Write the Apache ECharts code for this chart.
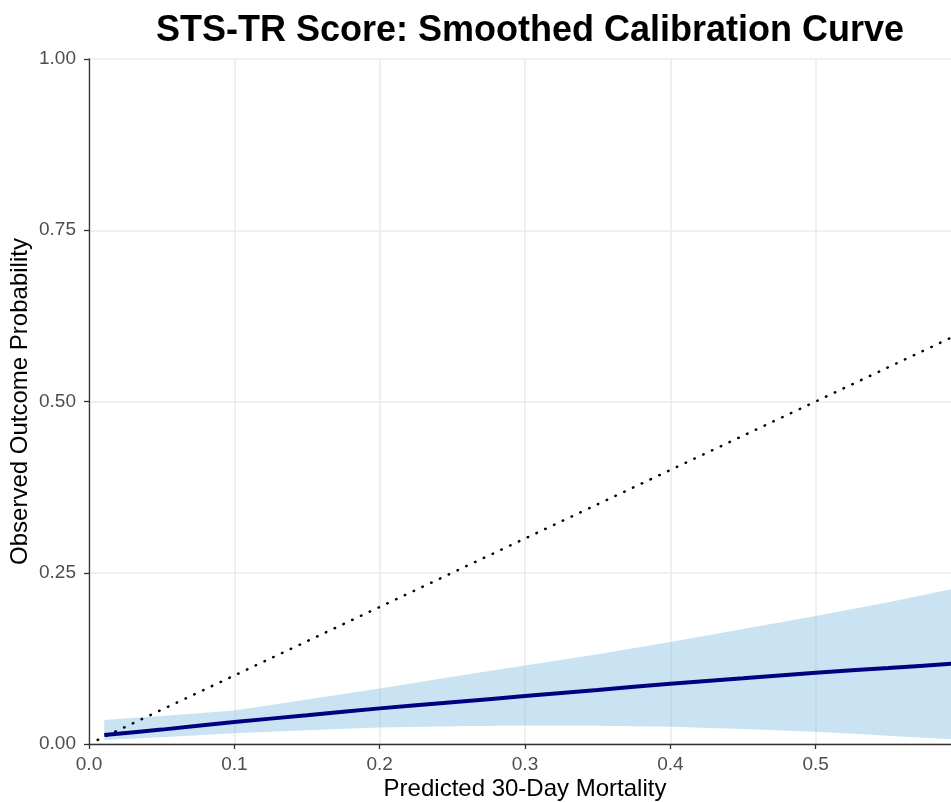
<!DOCTYPE html>
<html>
<head>
<meta charset="utf-8">
<script src="https://cdn.jsdelivr.net/npm/echarts@6/dist/echarts.min.js"></script>
<style>
html,body{margin:0;padding:0;background:#fff;}
#chart{width:951px;height:802px;}
</style>
</head>
<body>
<div id="chart"></div>
<script>
// Data
const predicted = [0.0105, 0.05, 0.1, 0.15, 0.2, 0.25, 0.3, 0.35, 0.4, 0.45, 0.5, 0.55, 0.6];
const observedFit = [0.013, 0.021, 0.032, 0.042, 0.052, 0.061, 0.070, 0.079, 0.088, 0.096, 0.104, 0.111, 0.118];
const upperCI = [0.035, 0.041, 0.049, 0.065, 0.081, 0.098, 0.1145, 0.131, 0.149, 0.168, 0.187, 0.207, 0.229];
const lowerCI = [0.006, 0.010, 0.0156, 0.020, 0.024, 0.026, 0.027, 0.0268, 0.0253, 0.022, 0.018, 0.012, 0.006];
const diagonal = [[0.006, 0.006], [0.6, 0.6]];
const xTicks = [0, 0.1, 0.2, 0.3, 0.4, 0.5];
const yTicks = [0, 0.25, 0.5, 0.75, 1];

const FONT = '"Liberation Sans", Arial, Helvetica, sans-serif';
const chart = echarts.init(document.getElementById('chart'), null, {renderer: 'canvas'});

const fitData = predicted.map((x, i) => [x, observedFit[i]]);

function renderBand(params, api) {
  const upperPts = predicted.map((x, i) => api.coord([x, upperCI[i]]));
  const lowerPts = predicted.map((x, i) => api.coord([x, lowerCI[i]])).reverse();
  return {
    type: 'polygon',
    shape: {points: upperPts.concat(lowerPts), smooth: 0},
    style: {fill: 'rgba(135,193,228,0.45)', stroke: null},
    silent: true
  };
}

chart.setOption({
  animation: false,
  backgroundColor: '#ffffff',
  title: {
    text: 'STS-TR Score: Smoothed Calibration Curve',
    left: 525,
    textAlign: 'center',
    top: 8,
    textStyle: {fontFamily: FONT, fontSize: 36, fontWeight: 'bold', color: '#000'}
  },
  grid: {left: 89, right: -10, top: 59, bottom: 58, containLabel: false, outerBoundsMode: 'none'},
  xAxis: {
    type: 'value',
    min: 0, max: 0.6, interval: 0.1,
    name: 'Predicted 30-Day Mortality',
    nameLocation: 'middle',
    nameGap: 33,
    nameMoveOverlap: false,
    nameTextStyle: {fontFamily: FONT, fontSize: 24, color: '#000'},
    axisLine: {show: true, onZero: false, lineStyle: {color: '#333', width: 1.3}},
    axisTick: {show: true, length: 5, lineStyle: {color: '#333', width: 1.3}},
    axisLabel: {
      fontFamily: FONT, fontSize: 19, color: '#4d4d4d', margin: 11,
      showMaxLabel: false,
      formatter: v => xTicks.some(t => Math.abs(t - v) < 1e-9) ? v.toFixed(1) : ''
    },
    splitLine: {show: true, lineStyle: {color: '#ebebeb', width: 1.6}}
  },
  yAxis: {
    type: 'value',
    min: 0, max: 1, interval: 0.25,
    name: 'Observed Outcome Probability',
    nameLocation: 'middle',
    nameGap: 57,
    nameMoveOverlap: false,
    nameTextStyle: {fontFamily: FONT, fontSize: 24, color: '#000'},
    axisLine: {show: true, onZero: false, lineStyle: {color: '#333', width: 1.3}},
    axisTick: {show: true, length: 5, lineStyle: {color: '#333', width: 1.3}},
    axisLabel: {
      fontFamily: FONT, fontSize: 19, color: '#4d4d4d', margin: 13,
      formatter: v => yTicks.some(t => Math.abs(t - v) < 1e-9) ? v.toFixed(2) : ''
    },
    splitLine: {show: true, lineStyle: {color: '#ebebeb', width: 1.6}}
  },
  series: [
    {
      name: 'band',
      type: 'custom',
      renderItem: renderBand,
      data: [[predicted[0], lowerCI[0]]],
      clip: true,
      silent: true,
      z: 2
    },
    {
      name: 'diagonal',
      type: 'line',
      data: diagonal,
      symbol: 'none',
      lineStyle: {color: '#000', width: 2.5, type: [0.5, 9.2], cap: 'round'},
      z: 3
    },
    {
      name: 'fit',
      type: 'line',
      data: fitData,
      smooth: 0.3,
      symbol: 'none',
      lineStyle: {color: '#000080', width: 4},
      z: 4
    }
  ]
});
</script>
</body>
</html>
